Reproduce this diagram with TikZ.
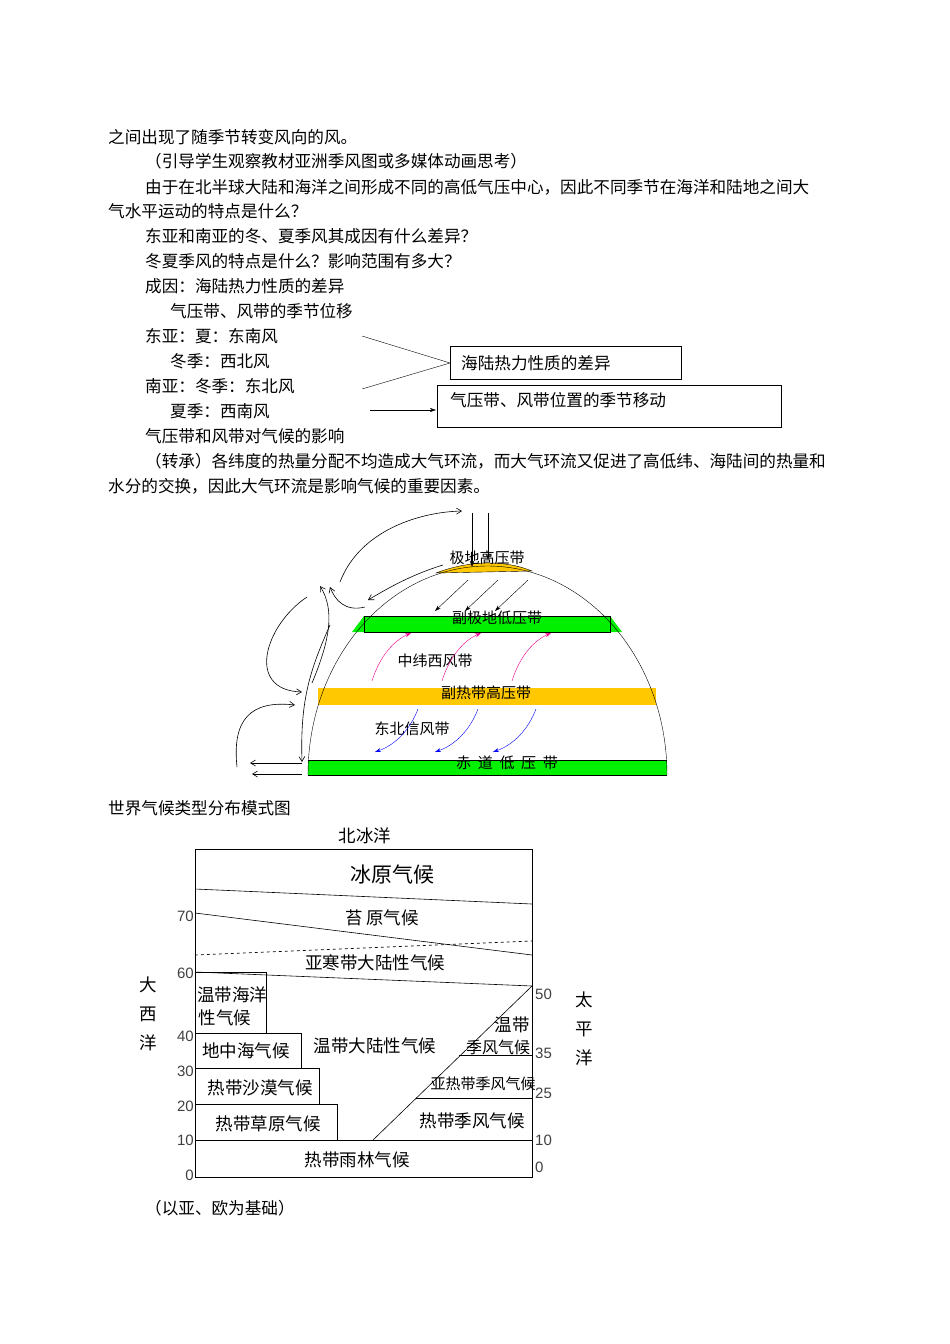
\documentclass[tikz,border=0pt]{standalone}
\usepackage{fontspec}
\setmainfont{Noto Sans CJK SC}
\newfontfamily\numf{Liberation Sans}
\usetikzlibrary{arrows.meta}
\definecolor{gr}{RGB}{0,240,0}
\definecolor{orn}{RGB}{255,200,0}
\tikzset{
 tx/.style={anchor=west,inner sep=0pt,font=\fontsize{16.6}{17}\selectfont},
 lab/.style={inner sep=0pt,font=\fontsize{15}{16}\selectfont},
 cl/.style={inner sep=0pt,font=\fontsize{17.5}{18}\selectfont},
 num/.style={inner sep=0pt,font=\numf\fontsize{15}{16}\selectfont,text=black!75},
 ar/.style={-{Stealth[length=6pt,width=4pt]},thin},
 ar2/.style={-{Straight Barb[length=5pt,width=6pt]},semithick},
 bx/.style={draw,thin}
}
\begin{document}
\begin{tikzpicture}[x=1pt,y=-1pt]
\useasboundingbox (0,0) rectangle (950,1344);
% text
\node[tx] (l1) at (108,137) {之间出现了随季节转变风向的风。};
\node[tx] (l2) at (145,161) {（引导学生观察教材亚洲季风图或多媒体动画思考）};
\node[tx] (l3) at (145,187) {由于在北半球大陆和海洋之间形成不同的高低气压中心，因此不同季节在海洋和陆地之间大};
\node[tx] (l4) at (108,211) {气水平运动的特点是什么？};
\node[tx] (l5) at (145,236) {东亚和南亚的冬、夏季风其成因有什么差异？};
\node[tx] (l6) at (145,261) {冬夏季风的特点是什么？影响范围有多大？};
\node[tx] (l7) at (145,286) {成因：海陆热力性质的差异};
\node[tx] (l8) at (170,311) {气压带、风带的季节位移};
\node[tx] (l9) at (145,336) {东亚：夏：东南风};
\node[tx] (l10) at (170,361) {冬季：西北风};
\node[tx] (l11) at (145,386) {南亚：冬季：东北风};
\node[tx] (l12) at (170,411) {夏季：西南风};
\node[tx] (l13) at (145,436) {气压带和风带对气候的影响};
\node[tx] (l14) at (145,461) {（转承）各纬度的热量分配不均造成大气环流，而大气环流又促进了高低纬、海陆间的热量和};
\node[tx] (l15) at (108,486) {水分的交换，因此大气环流是影响气候的重要因素。};
% boxes
\draw[bx] (450,346) rectangle (681,379);
\node[tx] (b1) at (461,363) {海陆热力性质的差异};
\draw[bx] (437,385) rectangle (781,427);
\node[tx] (b2) at (450,400) {气压带、风带位置的季节移动};
\coordinate (p1) at (362,336); \coordinate (p2) at (362,389); \coordinate (pm) at (450,363);
\draw (p1) -- (pm) -- (p2);
\coordinate (q1) at (370,410); \coordinate (q2) at (436,410);
\draw[ar] (q1) -- (q2);
% circulation
\fill[gr] (308,760) rectangle (667,775);
\fill[orn] (318,688) rectangle (656,705);
\fill[gr] (352,632) -- (364,616) -- (364,632) -- cycle;
\fill[gr] (622,632) -- (610,616) -- (610,632) -- cycle;
\fill[gr] (364,616) rectangle (610,632);
\draw (364,616) rectangle (610,632);
\fill[orn,draw=black] (436,573) .. controls (470,560) and (505,560) .. (532,571) -- cycle;
\draw (308,775) -- (667,775);
\draw (308,760) -- (667,760);
\draw (308,775) arc[start angle=180,end angle=360,x radius=179.5,y radius=209];
\node[lab] (n1) at (487,558) {极地高压带};
\node[lab] (n2) at (497,618) {副极地低压带};
\node[lab] (n3) at (435,661) {中纬西风带};
\node[lab] (n4) at (486,693) {副热带高压带};
\node[lab] (n5) at (412,729) {东北信风带};
\node[lab] (n6) at (507,763) {赤\ \ 道\ \ 低\ \ 压\ \ 带};
\foreach \x in {0,30,60} \draw[ar] (468+\x,580) -- (435+\x,611);
\foreach \x in {0,70,140} \draw[ar,magenta] (372+\x,681) .. controls (380+\x,655) and (395+\x,640) .. (411+\x,633);
\foreach \x in {0,60,118} \draw[ar,blue] (418+\x,709) .. controls (410+\x,730) and (395+\x,745) .. (375+\x,752);
\draw[ar] (472,513) -- (472,567);
\draw[ar] (488,513) -- (488,560);
\draw[ar2] (340,582) .. controls (360,530) and (420,512) .. (462,511);
\draw[ar2] (443,565) .. controls (410,575) and (385,590) .. (368,600);
\draw[ar2] (365,607) .. controls (345,612) and (335,600) .. (330,587);
\draw[ar2] (312,683) .. controls (330,640) and (335,610) .. (320,586);
\draw[ar2] (307,597) .. controls (265,625) and (245,690) .. (302,692);
\draw[ar2] (237,767) .. controls (232,720) and (250,700) .. (295,705);
\draw[ar2] (330,625) .. controls (310,670) and (300,700) .. (302,762);
\draw[ar2] (302,763) -- (250,763);
\draw[ar2] (302,774) -- (252,774);
% chart
\node[tx] (t1) at (108,808) {世界气候类型分布模式图};
\node[tx] (t2) at (145,1208) {（以亚、欧为基础）};
\node[cl] (bb) at (365,836) {北冰洋};
\begin{scope}[semithick]
\draw (195,849) rectangle (532,1177);
\draw (195,889) -- (532,904);
\draw (195,913) -- (532,955);
\draw[dashed] (195,955) -- (532,941);
\draw (195,972) -- (532,986);
\draw (195,972) rectangle (266,1033);
\draw (195,1033) rectangle (301,1068);
\draw (195,1068) rectangle (319,1104);
\draw (195,1104) rectangle (337,1140);
\draw (195,1140) -- (532,1140);
\draw (373,1140) -- (532,986);
\draw (459,1055) -- (532,1055);
\draw (416,1098) -- (532,1098);
\end{scope}
\node[cl,font=\fontsize{21}{22}\selectfont] (c1) at (392,875) {冰原气候};
\node[cl] (c2) at (382,918) {苔 原气候};
\node[cl] (c3) at (375,963) {亚寒带大陆性气候};
\node[cl] (c4) at (232,995) {温带海洋};
\node[cl] (c5) at (225,1018) {性气候};
\node[cl] (c6) at (246,1051) {地中海气候};
\node[cl] (c7) at (375,1046) {温带大陆性气候};
\node[cl] (c8) at (512,1025) {温带};
\node[cl,font=\fontsize{16}{17}\selectfont] (c9) at (498,1047) {季风气候};
\node[cl,font=\fontsize{15}{16}\selectfont] (c10) at (483,1084) {亚热带季风气候};
\node[cl] (c11) at (260,1088) {热带沙漠气候};
\node[cl] (c12) at (268,1124) {热带草原气候};
\node[cl] (c13) at (472,1121) {热带季风气候};
\node[cl] (c14) at (357,1160) {热带雨林气候};
\foreach \v/\y in {70/916,60/973,40/1036,30/1071,20/1106,10/1140,0/1175}
  \node[num,anchor=east] at (194,\y) {\v};
\foreach \v/\y in {50/994,35/1053,25/1093,10/1140,0/1167}
  \node[num,anchor=west] at (535,\y) {\v};
\node[cl] (d1) at (148,985) {大};
\node[cl] (d2) at (148,1014) {西};
\node[cl] (d3) at (148,1043) {洋};
\node[cl] (e1) at (584,1000) {太};
\node[cl] (e2) at (584,1029) {平};
\node[cl] (e3) at (584,1058) {洋};
\end{tikzpicture}
\end{document}
